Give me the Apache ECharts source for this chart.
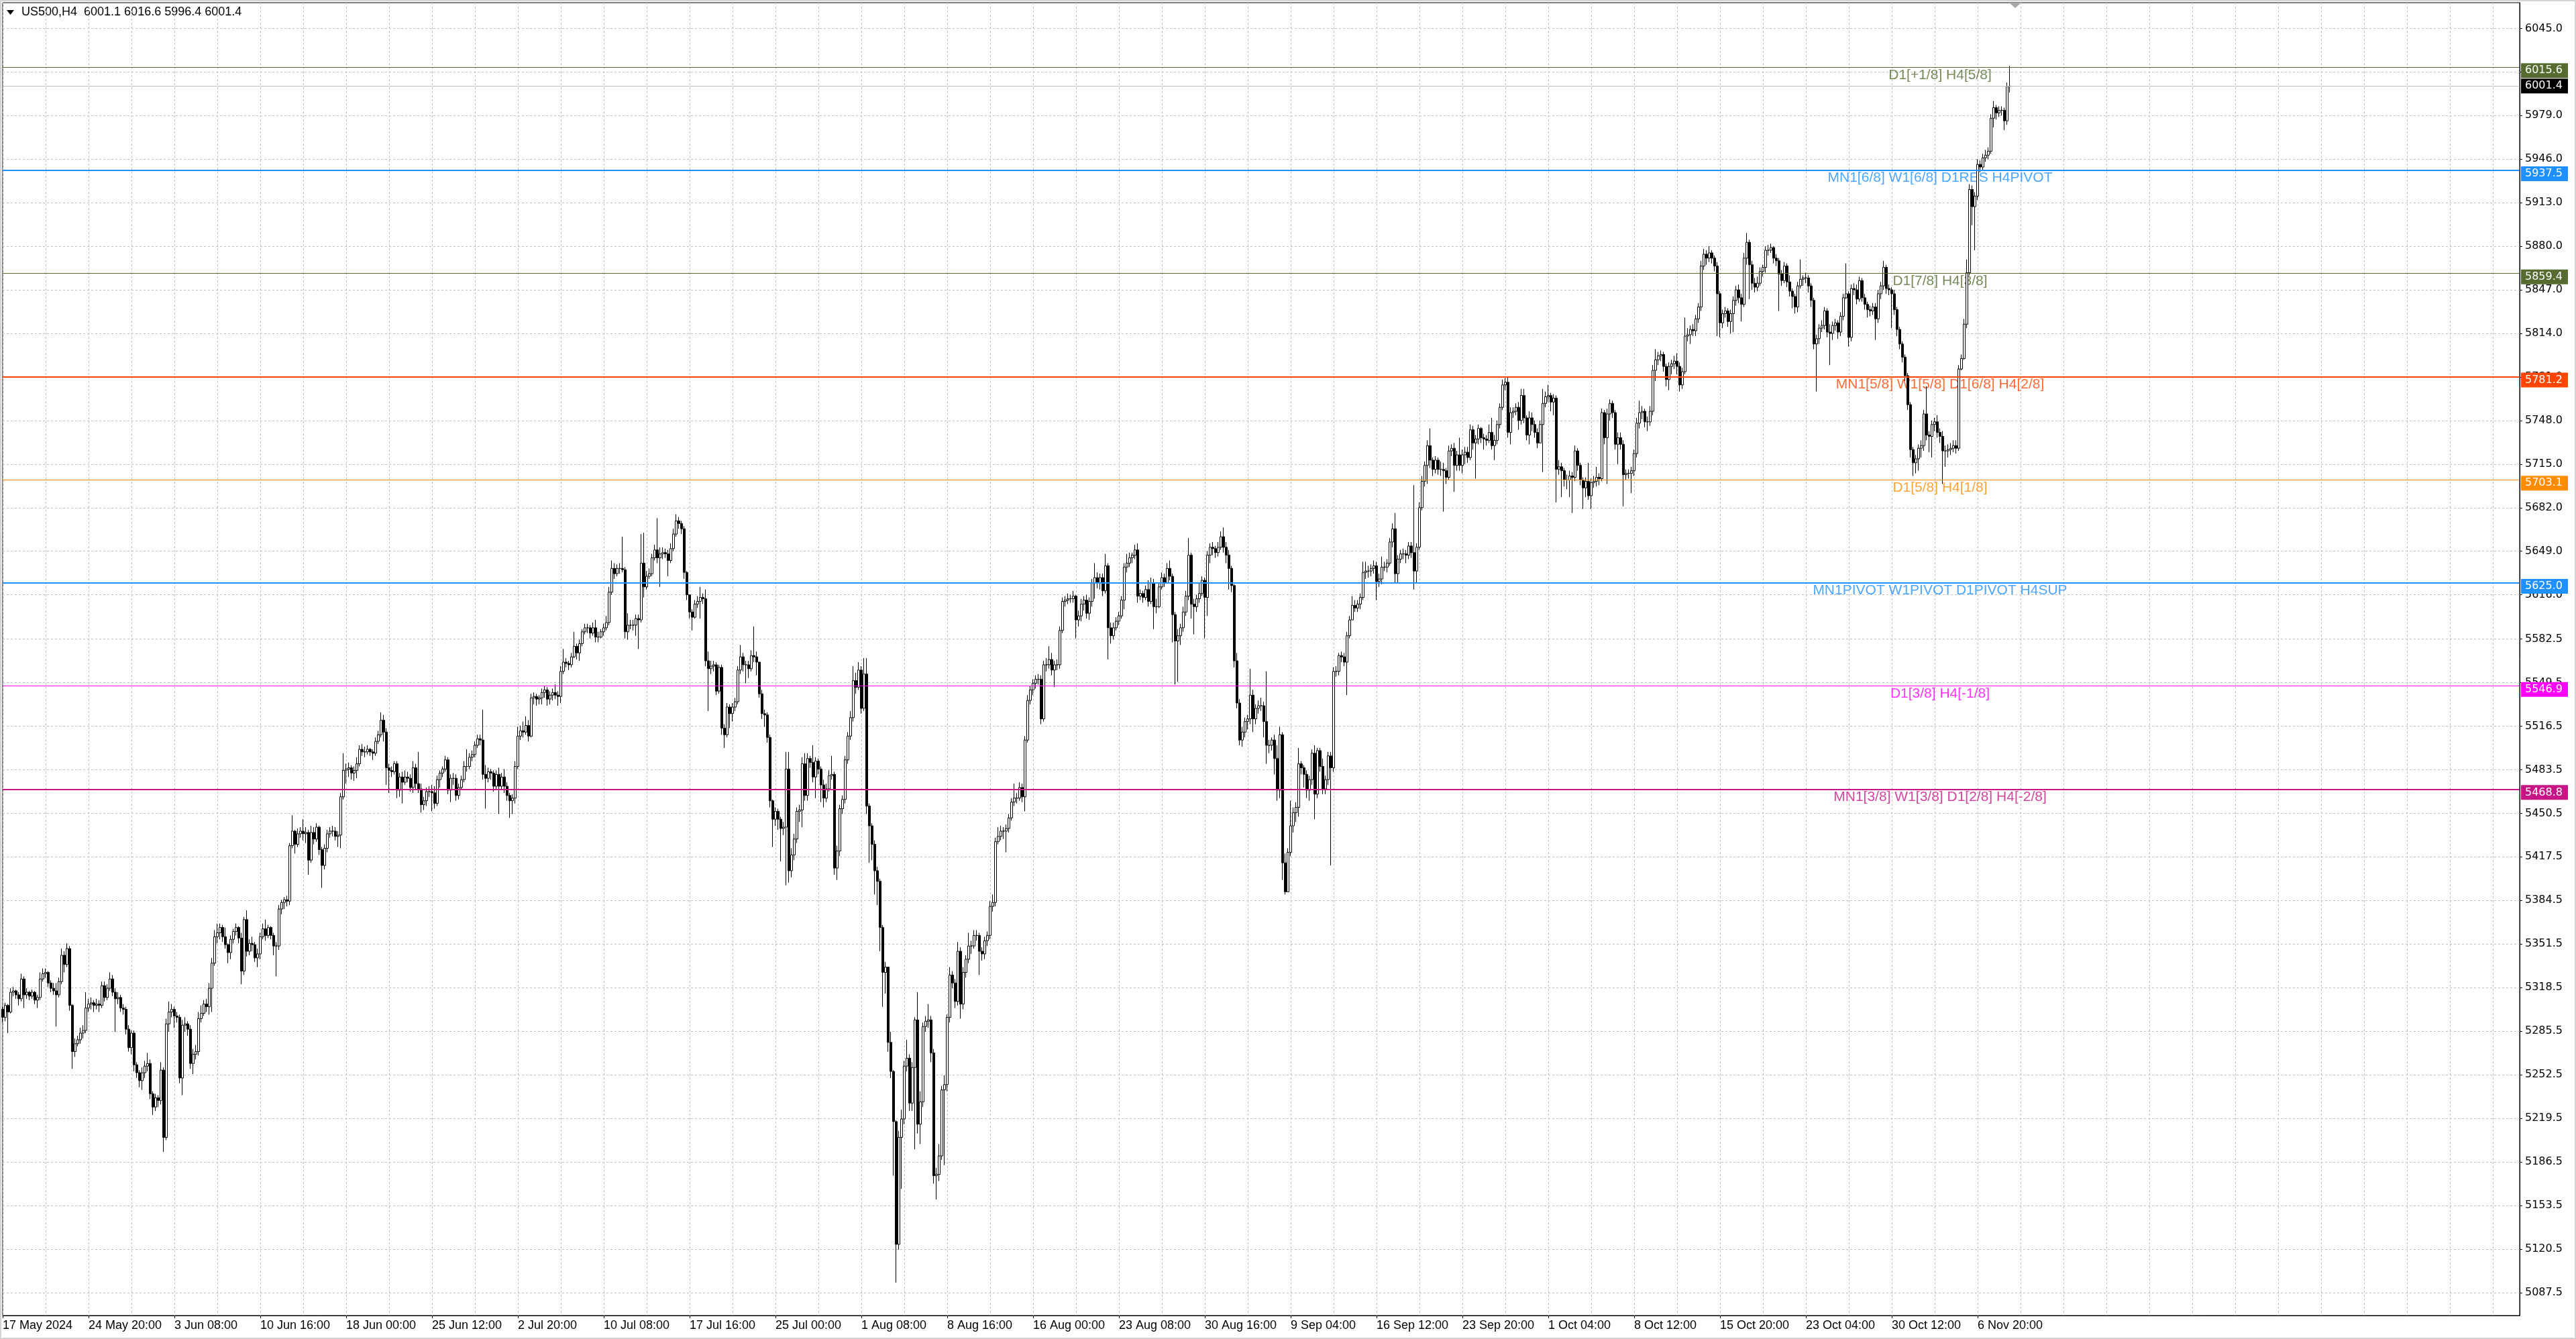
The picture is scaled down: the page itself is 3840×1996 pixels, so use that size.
<!DOCTYPE html>
<html><head><meta charset="utf-8">
<script src="https://cdn.jsdelivr.net/npm/echarts@6.0.0/dist/echarts.min.js"></script>
<style>html,body{margin:0;padding:0;background:#fff}#c{width:3840px;height:1996px}</style>
</head><body><div id="c"></div>
<script>
const symbolName = 'US500,H4';
const firstOpen = 5302;
const closes = [
5296,5305,5300,5315,5316,5313,5310,5325,5313,5315,
5312,5315,5309,5311,5325,5329,5330,5322,5318,5316,
5313,5323,5343,5336,5348,5305,5270,5276,5279,5284,
5286,5303,5306,5307,5305,5306,5305,5320,5311,5318,
5325,5315,5310,5311,5303,5302,5287,5273,5284,5260,
5254,5248,5254,5259,5261,5238,5228,5235,5233,5256,
5205,5291,5300,5302,5297,5296,5250,5290,5291,5287,
5261,5268,5270,5295,5299,5306,5304,5318,5337,5357,
5360,5364,5357,5351,5345,5355,5361,5364,5356,5331,
5370,5346,5352,5351,5341,5344,5357,5363,5358,5364,
5358,5350,5350,5378,5383,5385,5384,5426,5437,5427,
5435,5437,5435,5436,5415,5436,5431,5440,5423,5411,
5424,5435,5437,5437,5433,5434,5463,5483,5484,5485,
5481,5483,5488,5499,5497,5497,5499,5497,5496,5505,
5510,5521,5512,5485,5483,5482,5488,5468,5478,5474,
5478,5477,5470,5485,5473,5469,5457,5460,5467,5467,
5466,5458,5476,5481,5484,5491,5468,5477,5477,5464,
5470,5476,5486,5486,5493,5495,5502,5507,5506,5480,
5477,5482,5481,5471,5480,5471,5478,5471,5464,5460,
5462,5486,5509,5513,5512,5517,5509,5538,5539,5537,
5538,5542,5544,5537,5540,5542,5540,5539,5558,5565,
5564,5563,5569,5577,5572,5579,5588,5591,5591,5587,
5591,5584,5584,5588,5591,5595,5618,5636,5632,5636,
5636,5635,5588,5593,5593,5593,5598,5597,5640,5622,
5630,5632,5644,5650,5644,5647,5648,5647,5642,5651,
5662,5672,5670,5666,5633,5616,5603,5599,5609,5611,
5614,5613,5566,5560,5562,5563,5543,5561,5515,5510,
5531,5526,5531,5535,5559,5569,5563,5563,5560,5570,
5569,5565,5541,5526,5525,5508,5460,5446,5452,5446,
5439,5440,5484,5407,5419,5431,5452,5453,5488,5464,
5492,5489,5478,5490,5484,5472,5462,5469,5479,5480,
5409,5422,5454,5461,5491,5509,5523,5551,5546,5559,
5530,5556,5456,5441,5427,5407,5399,5364,5330,5334,
5277,5255,5217,5124,5205,5219,5259,5265,5231,5258,
5294,5215,5232,5289,5293,5294,5269,5176,5177,5191,
5241,5245,5296,5328,5322,5308,5346,5306,5330,5340,
5350,5350,5358,5358,5346,5344,5354,5358,5380,5383,
5429,5433,5437,5437,5439,5447,5459,5462,5462,5470,
5463,5506,5536,5544,5549,5552,5552,5522,5563,5563,
5567,5559,5563,5563,5589,5611,5612,5613,5613,5615,
5597,5600,5609,5612,5602,5611,5625,5629,5625,5629,
5619,5638,5591,5585,5591,5596,5600,5612,5637,5640,
5644,5646,5650,5615,5617,5614,5620,5611,5625,5607,
5607,5622,5629,5625,5636,5630,5601,5581,5585,5591,
5603,5615,5646,5609,5607,5613,5617,5627,5614,5646,
5652,5651,5648,5652,5660,5652,5646,5636,5623,5566,
5534,5506,5512,5520,5522,5540,5522,5530,5532,5532,
5520,5502,5502,5506,5492,5468,5510,5413,5391,5421,
5441,5451,5455,5488,5485,5480,5468,5476,5496,5465,
5498,5486,5469,5476,5494,5485,5558,5558,5570,5569,
5565,5585,5597,5608,5606,5609,5614,5633,5634,5634,
5636,5638,5626,5628,5637,5637,5640,5656,5666,5632,
5643,5647,5647,5646,5653,5648,5634,5652,5682,5702,
5714,5729,5718,5711,5718,5711,5711,5710,5705,5725,
5727,5714,5722,5714,5722,5724,5720,5741,5731,5734,
5742,5735,5734,5733,5739,5729,5733,5745,5758,5775,
5777,5739,5754,5755,5758,5748,5767,5750,5737,5750,
5745,5739,5731,5745,5761,5766,5767,5762,5765,5711,
5713,5710,5703,5703,5706,5705,5725,5714,5703,5697,
5702,5691,5701,5702,5705,5704,5754,5735,5753,5761,
5754,5730,5735,5730,5707,5708,5708,5710,5723,5746,
5754,5755,5747,5747,5755,5786,5794,5797,5798,5789,
5779,5789,5791,5793,5789,5775,5785,5812,5813,5817,
5816,5825,5834,5865,5874,5871,5875,5871,5865,5844,
5822,5829,5831,5823,5829,5839,5847,5841,5836,5871,
5883,5866,5852,5849,5852,5861,5864,5877,5877,5879,
5871,5869,5859,5854,5865,5853,5846,5842,5834,5850,
5855,5856,5856,5850,5839,5806,5810,5818,5820,5831,
5815,5814,5820,5822,5815,5827,5841,5844,5811,5848,
5847,5840,5854,5841,5836,5832,5831,5834,5825,5844,
5850,5864,5848,5847,5844,5832,5817,5806,5796,5782,
5760,5726,5716,5719,5727,5729,5753,5737,5736,5745,
5747,5739,5736,5725,5725,5726,5727,5729,5727,5787,
5795,5821,5860,5923,5910,5918,5942,5940,5947,5949,
5952,5977,5985,5981,5983,5983,5975,6001.1,6001.4
];
const highs = [
5304,5307,5306,5318,5319,5317,5315,5329,5327,5318,
5316,5317,5316,5313,5330,5333,5333,5331,5324,5322,
5322,5326,5348,5346,5352,5350,5306,5280,5282,5288,
5290,5315,5310,5311,5309,5310,5309,5323,5323,5321,
5330,5328,5318,5315,5313,5306,5304,5290,5286,5286,
5262,5256,5258,5263,5269,5264,5240,5238,5237,5262,
5258,5295,5308,5306,5304,5300,5298,5294,5296,5293,
5290,5272,5275,5300,5305,5309,5310,5322,5341,5362,
5367,5367,5366,5364,5352,5358,5363,5367,5365,5360,
5372,5377,5355,5357,5353,5348,5360,5367,5370,5366,
5365,5360,5353,5381,5385,5387,5388,5428,5449,5438,
5439,5440,5446,5440,5438,5441,5440,5443,5441,5425,
5427,5438,5440,5441,5440,5437,5466,5496,5488,5489,
5487,5486,5493,5502,5503,5501,5502,5500,5499,5508,
5513,5527,5525,5515,5488,5486,5490,5490,5481,5482,
5483,5482,5480,5490,5488,5497,5473,5463,5470,5471,
5472,5471,5479,5483,5486,5494,5493,5480,5481,5480,
5473,5479,5490,5499,5496,5498,5505,5510,5510,5529,
5487,5485,5484,5483,5483,5485,5481,5484,5474,5466,
5465,5490,5516,5517,5520,5524,5521,5541,5542,5541,
5540,5545,5547,5546,5543,5545,5548,5543,5562,5575,
5568,5566,5572,5588,5579,5582,5590,5594,5594,5593,
5595,5597,5588,5590,5594,5600,5622,5642,5640,5639,
5640,5660,5637,5602,5597,5597,5601,5601,5662,5663,
5634,5636,5647,5654,5674,5652,5652,5651,5650,5655,
5666,5677,5675,5672,5668,5634,5616,5605,5612,5615,
5622,5617,5620,5573,5566,5566,5565,5563,5563,5518,
5534,5533,5534,5538,5562,5578,5572,5566,5566,5574,
5592,5573,5547,5544,5529,5527,5510,5461,5455,5454,
5448,5444,5497,5497,5424,5435,5455,5457,5493,5496,
5496,5494,5502,5493,5492,5486,5476,5473,5483,5494,
5482,5426,5457,5464,5494,5512,5528,5562,5557,5565,
5562,5568,5568,5458,5443,5430,5410,5401,5366,5338,
5316,5285,5256,5218,5210,5226,5263,5279,5268,5262,
5296,5315,5240,5292,5297,5306,5297,5272,5182,5200,
5244,5252,5298,5334,5331,5325,5353,5349,5334,5343,
5360,5354,5362,5362,5360,5349,5357,5361,5384,5389,
5432,5440,5441,5440,5442,5450,5462,5473,5466,5474,
5473,5509,5540,5547,5552,5555,5556,5555,5566,5568,
5577,5572,5566,5567,5592,5614,5615,5617,5616,5619,
5616,5604,5613,5615,5616,5614,5628,5640,5633,5632,
5632,5647,5640,5595,5595,5599,5603,5615,5640,5647,
5648,5648,5654,5655,5620,5619,5623,5627,5629,5628,
5613,5625,5633,5632,5640,5642,5632,5603,5590,5594,
5607,5619,5659,5648,5613,5616,5625,5630,5629,5649,
5655,5656,5653,5656,5664,5667,5656,5650,5638,5624,
5572,5537,5516,5523,5525,5560,5544,5533,5536,5538,
5535,5558,5506,5508,5510,5502,5516,5512,5420,5424,
5460,5455,5459,5500,5490,5487,5483,5479,5499,5502,
5500,5500,5492,5479,5497,5497,5561,5562,5572,5573,
5572,5588,5600,5615,5612,5612,5617,5641,5641,5638,
5639,5642,5641,5632,5645,5641,5643,5659,5670,5678,
5646,5650,5651,5650,5656,5656,5699,5655,5686,5706,
5717,5733,5742,5720,5721,5720,5717,5716,5712,5729,
5730,5731,5725,5735,5726,5728,5728,5745,5744,5737,
5745,5743,5738,5737,5745,5750,5737,5748,5761,5779,
5780,5781,5758,5758,5761,5762,5772,5772,5752,5755,
5754,5748,5742,5748,5772,5770,5775,5769,5768,5767,
5718,5716,5712,5707,5710,5709,5729,5727,5716,5705,
5705,5716,5704,5706,5713,5708,5757,5756,5757,5764,
5763,5756,5739,5739,5733,5711,5711,5713,5726,5750,
5763,5759,5757,5751,5759,5790,5802,5800,5801,5800,
5791,5792,5794,5797,5799,5792,5788,5826,5818,5820,
5821,5828,5837,5869,5878,5877,5880,5877,5873,5868,
5846,5832,5834,5833,5832,5842,5850,5851,5844,5875,
5890,5885,5869,5856,5857,5864,5866,5880,5881,5882,
5880,5874,5871,5862,5868,5867,5858,5848,5844,5853,
5870,5858,5860,5858,5852,5841,5813,5821,5824,5834,
5833,5821,5823,5825,5824,5830,5844,5867,5846,5851,
5852,5851,5857,5856,5844,5838,5835,5837,5837,5847,
5853,5869,5866,5851,5849,5847,5834,5819,5808,5798,
5784,5762,5728,5722,5730,5733,5756,5774,5740,5748,
5750,5752,5742,5740,5729,5730,5731,5733,5733,5790,
5798,5825,5870,5927,5926,5921,5946,5945,5950,5953,
5955,5980,5990,5987,5986,5986,5985,6004,6016.6
];
const lows = [
5292,5293,5284,5299,5312,5310,5305,5308,5303,5310,
5309,5310,5306,5303,5309,5323,5326,5319,5315,5313,
5289,5311,5321,5330,5334,5301,5257,5266,5274,5276,
5280,5284,5300,5302,5300,5302,5300,5303,5308,5309,
5316,5312,5285,5306,5300,5298,5283,5270,5268,5255,
5250,5243,5241,5250,5255,5234,5222,5225,5228,5230,
5194,5203,5285,5296,5288,5292,5246,5237,5285,5282,
5257,5253,5264,5267,5292,5297,5300,5298,5300,5335,
5352,5355,5353,5348,5337,5340,5352,5358,5352,5321,
5328,5342,5343,5346,5338,5334,5340,5355,5354,5356,
5355,5343,5327,5347,5374,5378,5380,5381,5424,5420,
5425,5432,5430,5428,5404,5413,5427,5429,5419,5394,
5408,5421,5432,5433,5430,5425,5424,5461,5473,5478,
5476,5475,5477,5486,5494,5493,5495,5494,5491,5494,
5503,5508,5505,5472,5466,5478,5480,5462,5463,5458,
5472,5474,5467,5466,5468,5466,5451,5453,5456,5463,
5452,5454,5456,5470,5478,5482,5465,5459,5472,5460,
5461,5468,5474,5482,5484,5490,5493,5500,5502,5476,
5454,5474,5476,5467,5468,5450,5468,5466,5460,5447,
5450,5458,5484,5506,5508,5510,5505,5508,5533,5532,
5533,5533,5538,5532,5533,5536,5537,5532,5534,5556,
5561,5559,5561,5568,5567,5566,5577,5586,5587,5583,
5585,5580,5580,5583,5585,5589,5593,5616,5628,5630,
5632,5633,5583,5582,5590,5589,5585,5575,5595,5614,
5620,5628,5630,5642,5640,5622,5643,5644,5630,5640,
5649,5660,5666,5662,5628,5612,5598,5589,5598,5606,
5598,5609,5562,5528,5556,5558,5540,5541,5510,5500,
5508,5515,5520,5528,5533,5556,5558,5549,5553,5558,
5565,5555,5538,5522,5516,5504,5455,5425,5441,5438,
5414,5434,5396,5398,5402,5415,5428,5444,5440,5460,
5460,5485,5474,5462,5480,5459,5455,5459,5467,5476,
5404,5400,5418,5450,5458,5488,5506,5520,5541,5544,
5526,5528,5450,5413,5415,5389,5381,5346,5304,5314,
5270,5250,5176,5095,5120,5166,5215,5255,5225,5225,
5196,5208,5200,5228,5285,5288,5262,5170,5158,5172,
5188,5184,5240,5292,5318,5303,5305,5295,5302,5326,
5337,5344,5348,5354,5328,5339,5340,5350,5355,5376,
5380,5427,5430,5431,5421,5436,5445,5456,5458,5460,
5459,5452,5504,5533,5540,5545,5548,5518,5520,5558,
5560,5555,5546,5559,5560,5587,5607,5609,5610,5610,
5583,5592,5596,5604,5598,5597,5607,5613,5621,5620,
5615,5617,5567,5579,5582,5589,5593,5598,5605,5633,
5637,5640,5643,5610,5612,5610,5612,5607,5609,5590,
5602,5606,5620,5622,5628,5627,5580,5548,5550,5578,
5588,5600,5612,5598,5586,5603,5610,5615,5583,5600,
5640,5646,5644,5645,5650,5648,5640,5620,5618,5561,
5530,5502,5501,5508,5514,5518,5512,5518,5526,5528,
5508,5488,5496,5498,5480,5460,5462,5400,5389,5393,
5418,5436,5444,5448,5480,5470,5462,5460,5472,5446,
5462,5482,5465,5465,5472,5411,5482,5554,5555,5565,
5562,5540,5583,5597,5603,5603,5605,5612,5628,5629,
5630,5632,5612,5622,5624,5634,5633,5638,5652,5625,
5625,5640,5643,5640,5643,5644,5620,5625,5650,5680,
5698,5700,5712,5706,5708,5707,5706,5679,5700,5703,
5721,5694,5710,5710,5708,5715,5716,5718,5726,5704,
5730,5731,5726,5729,5731,5726,5718,5730,5742,5756,
5771,5735,5730,5750,5752,5741,5745,5746,5733,5730,
5740,5735,5727,5731,5709,5758,5762,5755,5752,5686,
5707,5690,5698,5696,5690,5678,5702,5710,5699,5681,
5690,5688,5681,5697,5698,5699,5702,5730,5700,5748,
5750,5726,5715,5726,5683,5703,5704,5693,5706,5720,
5742,5749,5743,5740,5744,5752,5778,5790,5793,5785,
5774,5771,5783,5787,5783,5770,5772,5783,5808,5806,
5812,5812,5822,5831,5862,5866,5868,5867,5861,5812,
5811,5818,5826,5819,5814,5815,5835,5837,5823,5834,
5866,5840,5847,5845,5846,5850,5857,5860,5873,5875,
5867,5865,5831,5850,5852,5849,5842,5833,5829,5830,
5848,5850,5852,5845,5834,5802,5770,5806,5815,5817,
5811,5790,5809,5816,5810,5812,5824,5840,5804,5808,
5843,5836,5838,5838,5832,5826,5827,5828,5809,5822,
5840,5847,5844,5843,5818,5828,5812,5802,5792,5778,
5756,5720,5706,5708,5710,5720,5725,5733,5724,5720,
5740,5735,5731,5700,5713,5720,5722,5724,5723,5725,
5786,5794,5818,5858,5896,5877,5915,5936,5938,5944,
5946,5950,5970,5976,5978,5979,5968,5972,5996.4
];
const xLabels = ['17 May 2024','24 May 20:00','3 Jun 08:00','10 Jun 16:00','18 Jun 00:00','25 Jun 12:00','2 Jul 20:00','10 Jul 08:00','17 Jul 16:00','25 Jul 00:00','1 Aug 08:00','8 Aug 16:00','16 Aug 00:00','23 Aug 08:00','30 Aug 16:00','9 Sep 04:00','16 Sep 12:00','23 Sep 20:00','1 Oct 04:00','8 Oct 12:00','15 Oct 20:00','23 Oct 04:00','30 Oct 12:00','6 Nov 20:00'];
const yTicks = [6045.0,6012.0,5979.0,5946.0,5913.0,5880.0,5847.0,5814.0,5781.0,5748.0,5715.0,5682.0,5649.0,5616.0,5582.5,5549.5,5516.5,5483.5,5450.5,5417.5,5384.5,5351.5,5318.5,5285.5,5252.5,5219.5,5186.5,5153.5,5120.5,5087.5];
const levelValues = [6015.6,5937.5,5859.4,5781.2,5703.1,5625.0,5546.9,5468.8];
const levelNames = ['D1[+1/8] H4[5/8]','MN1[6/8] W1[6/8] D1RES H4PIVOT','D1[7/8] H4[3/8]','MN1[5/8] W1[5/8] D1[6/8] H4[2/8]','D1[5/8] H4[1/8]','MN1PIVOT W1PIVOT D1PIVOT H4SUP','D1[3/8] H4[-1/8]','MN1[3/8] W1[3/8] D1[2/8] H4[-2/8]'];

// styles (kept apart from data)
const levelColors = ['#556B2F','#1E90FF','#556B2F','#FF4500','#FF8C00','#1E90FF','#FF00FF','#C71585'];
const levelWidths = [1,2,1,2,1,2,1,2];
const totalSlots = 939;          // bars + empty chart-shift area
const labelEvery = 32, gridEvery = 16;
const levelLabelSlot = 722;
const GRID = '#c0c0c0';

const slots = Array.from({length: totalSlots}, (_, i) => String(i));
const candles = closes.map((c, i) => {
  const o = i ? closes[i - 1] : firstOpen;
  return [o, c, Math.min(lows[i], o, c), Math.max(highs[i], o, c)];
});
const last = candles[candles.length - 1];
const bid = closes[closes.length - 1];
const titleText = `${symbolName}  ${last[0].toFixed(1)} ${last[3].toFixed(1)} ${last[2].toFixed(1)} ${last[1].toFixed(1)}`;

const showLabel = i => i % labelEvery === 0 && i / labelEvery < xLabels.length;

const boxLabel = (color, dy) => ({
  show: true, position: 'end', distance: 2,
  formatter: p => Number(p.value).toFixed(1),
  backgroundColor: color, color: '#fff',
  fontFamily: 'DejaVu Sans', fontSize: 16, lineHeight: 16,
  padding: [3, 8, 3, 6], offset: [0, dy]
});

const markData = levelValues.map((v, k) => ({
  yAxis: v,
  lineStyle: {color: levelColors[k], width: levelWidths[k], type: 'solid'},
  label: boxLabel(levelColors[k], 5)
}));
markData.push({
  yAxis: bid,
  lineStyle: {color: '#c0c0c0', width: 1, type: 'solid'},
  label: boxLabel('#000', 0)
});

const chart = echarts.init(document.getElementById('c'), null, {renderer: 'canvas'});
chart.setOption({
  animation: false,
  backgroundColor: '#fff',
  grid: {left: 4, right: 84, top: 4, bottom: 35, show: true, borderColor: '#000', borderWidth: 1, backgroundColor: '#fff'},
  xAxis: {
    type: 'category', data: slots, boundaryGap: false,
    axisLine: {show: true, lineStyle: {color: '#000'}},
    axisTick: {show: true, length: 4, interval: showLabel, lineStyle: {color: '#000'}},
    axisLabel: {
      interval: showLabel, align: 'left', margin: 6,
      formatter: (v, i) => showLabel(i) ? xLabels[i / labelEvery] : '',
      fontFamily: 'Liberation Sans', fontSize: 18, color: '#000'
    },
    splitLine: {show: true, interval: i => i % gridEvery === 0, lineStyle: {color: GRID, width: 1, type: [3, 3]}}
  },
  yAxis: {
    type: 'value', position: 'right', min: 5070.1, max: 6064.5,
    axisLine: {show: true, lineStyle: {color: '#000'}},
    axisTick: {show: true, length: 4, customValues: yTicks, lineStyle: {color: '#000'}},
    axisLabel: {customValues: yTicks, formatter: v => Number(v).toFixed(1), margin: 8,
      fontFamily: 'DejaVu Sans', fontSize: 16, color: '#000'},
    splitLine: {show: true, lineStyle: {color: GRID, width: 1, type: [3, 3]}}
  },
  graphic: [
    {type: 'rect', shape: {x: 1, y: 1, width: 3838, height: 1994}, style: {fill: 'none', stroke: '#d4d4d4', lineWidth: 2}, silent: true},
    {type: 'polygon', shape: {points: [[10, 15], [21, 15], [15.5, 22]]}, style: {fill: '#000'}, silent: true},
    {type: 'text', left: 32, top: 9, style: {text: titleText, font: '18px "Liberation Sans"', fill: '#000'}, silent: true},
    {type: 'polygon', shape: {points: [[2995, 4], [3013, 4], [3004, 12]]}, style: {fill: '#a8a8a8'}, silent: true}
  ],
  series: [
    {
      type: 'scatter', z: 1, clip: false, symbolSize: 0, silent: true,
      data: levelValues.map((v, k) => ({
        value: [levelLabelSlot, v],
        label: {color: levelColors[k]}
      })),
      label: {
        show: true, position: 'bottom', distance: 1,
        formatter: p => levelNames[p.dataIndex],
        fontFamily: 'Liberation Sans', fontSize: 21
      },
      markLine: {silent: true, symbol: ['none', 'none'], animation: false, data: markData}
    },
    {
      type: 'candlestick', z: 2, data: candles, barWidth: 3, silent: true,
      large: false, progressive: 0,
      itemStyle: {color: '#fff', color0: '#000', borderColor: '#000', borderColor0: '#000', borderWidth: 1}
    }
  ]
});
</script></body></html>
